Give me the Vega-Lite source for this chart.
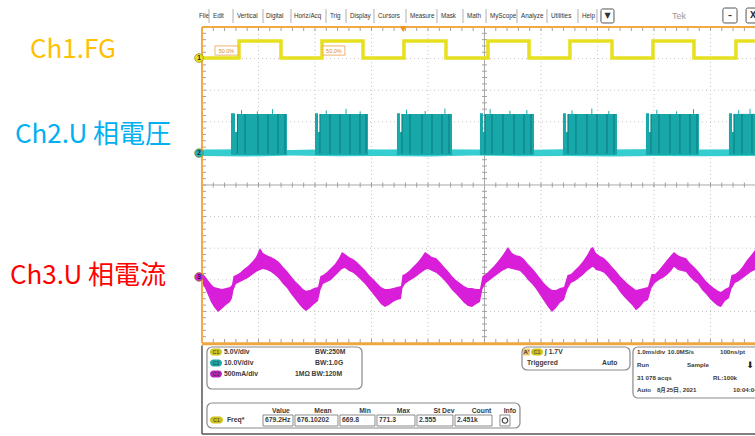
{
  "$schema": "https://vega.github.io/schema/vega-lite/v6.json",
  "width": 755,
  "height": 436,
  "autosize": "none",
  "padding": 0,
  "background": "white",
  "config": {"view": {"stroke": null}},
  "resolve": {"scale": {"color": "independent"}},
  "encoding": {
    "x": {"field": "t", "type": "quantitative", "scale": {"domain": [-3.575, 9.788], "nice": false, "zero": false}, "axis": null},
    "y": {"field": "v", "type": "quantitative", "scale": {"domain": [-7.943, 5.854], "nice": false, "zero": false}, "axis": null}
  },
  "datasets": {
    "ch1": [{"t":0,"v":4.02},{"t":0.655,"v":4.56},{"t":1.398,"v":4.02},{"t":2.124,"v":4.56},{"t":2.85,"v":4.02},{"t":3.575,"v":4.56},{"t":4.319,"v":4.02},{"t":5.062,"v":4.56},{"t":5.788,"v":4.02},{"t":6.513,"v":4.56},{"t":7.257,"v":4.02},{"t":7.982,"v":4.56},{"t":8.708,"v":4.02},{"t":9.451,"v":4.56},{"t":9.95,"v":4.56}],
    "ch2base": [{"t":0,"v":0.92,"v2":1.12},{"t":0.8,"v":0.9,"v2":1.13},{"t":1.6,"v":0.93,"v2":1.11},{"t":2.4,"v":0.91,"v2":1.14},{"t":3.2,"v":0.92,"v2":1.12},{"t":4.0,"v":0.9,"v2":1.13},{"t":4.8,"v":0.93,"v2":1.12},{"t":5.6,"v":0.91,"v2":1.11},{"t":6.4,"v":0.92,"v2":1.13},{"t":7.2,"v":0.9,"v2":1.12},{"t":8.0,"v":0.92,"v2":1.14},{"t":8.8,"v":0.91,"v2":1.12},{"t":9.95,"v":0.92,"v2":1.13}],
    "bursts": [
      {"t":0.513,"t2":0.584,"v":0.95,"v2":2.27},{"t":0.584,"t2":0.628,"v":0.95,"v2":1.68},{"t":0.628,"t2":1.504,"v":0.95,"v2":2.25},
      {"t":2.0,"t2":2.053,"v":0.95,"v2":2.27},{"t":2.053,"t2":2.088,"v":0.95,"v2":1.68},{"t":2.088,"t2":2.938,"v":0.95,"v2":2.25},
      {"t":3.451,"t2":3.504,"v":0.95,"v2":2.27},{"t":3.504,"t2":3.54,"v":0.95,"v2":1.68},{"t":3.54,"t2":4.425,"v":0.95,"v2":2.25},
      {"t":4.92,"t2":4.973,"v":0.95,"v2":2.27},{"t":4.973,"t2":5.009,"v":0.95,"v2":1.68},{"t":5.009,"t2":5.876,"v":0.95,"v2":2.25},
      {"t":6.389,"t2":6.442,"v":0.95,"v2":2.27},{"t":6.442,"t2":6.478,"v":0.95,"v2":1.68},{"t":6.478,"t2":7.345,"v":0.95,"v2":2.25},
      {"t":7.858,"t2":7.912,"v":0.95,"v2":2.27},{"t":7.912,"t2":7.947,"v":0.95,"v2":1.68},{"t":7.947,"t2":8.796,"v":0.95,"v2":2.25},
      {"t":9.327,"t2":9.381,"v":0.95,"v2":2.27},{"t":9.381,"t2":9.416,"v":0.95,"v2":1.68},{"t":9.416,"t2":9.788,"v":0.95,"v2":2.25}
    ],
    "burstlines": [{"t":0.628,"v":1.0,"v2":2.25},{"t":0.761,"v":1.0,"v2":2.25},{"t":0.991,"v":1.0,"v2":2.25},{"t":1.168,"v":1.0,"v2":2.25},{"t":1.345,"v":1.0,"v2":2.25},{"t":1.469,"v":1.0,"v2":2.25},
      {"t":2.088,"v":1.0,"v2":2.25},{"t":2.265,"v":1.0,"v2":2.25},{"t":2.442,"v":1.0,"v2":2.25},{"t":2.619,"v":1.0,"v2":2.25},{"t":2.796,"v":1.0,"v2":2.25},{"t":2.903,"v":1.0,"v2":2.25},
      {"t":3.54,"v":1.0,"v2":2.25},{"t":3.681,"v":1.0,"v2":2.25},{"t":3.894,"v":1.0,"v2":2.25},{"t":4.071,"v":1.0,"v2":2.25},{"t":4.248,"v":1.0,"v2":2.25},{"t":4.372,"v":1.0,"v2":2.25},
      {"t":5.009,"v":1.0,"v2":2.25},{"t":5.133,"v":1.0,"v2":2.25},{"t":5.327,"v":1.0,"v2":2.25},{"t":5.522,"v":1.0,"v2":2.25},{"t":5.699,"v":1.0,"v2":2.25},{"t":5.823,"v":1.0,"v2":2.25},
      {"t":6.478,"v":1.0,"v2":2.25},{"t":6.619,"v":1.0,"v2":2.25},{"t":6.814,"v":1.0,"v2":2.25},{"t":6.991,"v":1.0,"v2":2.25},{"t":7.168,"v":1.0,"v2":2.25},{"t":7.292,"v":1.0,"v2":2.25},
      {"t":7.947,"v":1.0,"v2":2.25},{"t":8.088,"v":1.0,"v2":2.25},{"t":8.283,"v":1.0,"v2":2.25},{"t":8.46,"v":1.0,"v2":2.25},{"t":8.637,"v":1.0,"v2":2.25},{"t":8.761,"v":1.0,"v2":2.25},
      {"t":9.416,"v":1.0,"v2":2.25},{"t":9.558,"v":1.0,"v2":2.25},{"t":9.735,"v":1.0,"v2":2.25}],
    "burstspikes": [{"t":0.7,"v":2.24,"v2":2.37},{"t":0.98,"v":2.24,"v2":2.33},{"t":1.25,"v":2.24,"v2":2.4},
      {"t":2.2,"v":2.24,"v2":2.36},{"t":2.55,"v":2.24,"v2":2.41},{"t":2.8,"v":2.24,"v2":2.33},
      {"t":3.62,"v":2.24,"v2":2.38},{"t":3.95,"v":2.24,"v2":2.34},{"t":4.3,"v":2.24,"v2":2.42},
      {"t":5.1,"v":2.24,"v2":2.4},{"t":5.45,"v":2.24,"v2":2.35},{"t":5.75,"v":2.24,"v2":2.37},
      {"t":6.55,"v":2.24,"v2":2.36},{"t":6.9,"v":2.24,"v2":2.42},{"t":7.2,"v":2.24,"v2":2.34},
      {"t":8.05,"v":2.24,"v2":2.38},{"t":8.4,"v":2.24,"v2":2.33},{"t":8.7,"v":2.24,"v2":2.4},
      {"t":9.5,"v":2.24,"v2":2.37},{"t":9.7,"v":2.24,"v2":2.41}],
    "ch3": [
      {"t":0,"v":-3.10,"v2":-2.78},{"t":0.053,"v":-3.26,"v2":-2.88},{"t":0.106,"v":-3.48,"v2":-3.01},{"t":0.159,"v":-3.70,"v2":-3.13},{"t":0.212,"v":-3.86,"v2":-3.23},{"t":0.283,"v":-4.02,"v2":-3.26},{"t":0.354,"v":-3.92,"v2":-3.29},{"t":0.425,"v":-3.80,"v2":-3.26},{"t":0.496,"v":-3.70,"v2":-3.23},{"t":0.531,"v":-3.58,"v2":-3.16},{"t":0.558,"v":-3.32,"v2":-2.88},
      {"t":0.602,"v":-3.13,"v2":-2.85},{"t":0.673,"v":-3.07,"v2":-2.78},{"t":0.743,"v":-3.01,"v2":-2.66},{"t":0.814,"v":-2.94,"v2":-2.56},{"t":0.885,"v":-2.85,"v2":-2.44},{"t":0.956,"v":-2.75,"v2":-2.28},{"t":1.027,"v":-2.69,"v2":-1.99},{"t":1.08,"v":-2.66,"v2":-2.15},{"t":1.15,"v":-2.69,"v2":-2.22},{"t":1.221,"v":-2.75,"v2":-2.28},{"t":1.292,"v":-2.85,"v2":-2.34},{"t":1.363,"v":-2.97,"v2":-2.44},{"t":1.434,"v":-3.13,"v2":-2.59},{"t":1.504,"v":-3.26,"v2":-2.72},{"t":1.575,"v":-3.45,"v2":-2.88},{"t":1.646,"v":-3.61,"v2":-3.04},{"t":1.717,"v":-3.77,"v2":-3.16},{"t":1.788,"v":-3.92,"v2":-3.29},{"t":1.841,"v":-3.99,"v2":-3.35},{"t":1.912,"v":-3.89,"v2":-3.32},{"t":1.982,"v":-3.77,"v2":-3.26},{"t":2.053,"v":-3.67,"v2":-3.23},{"t":2.097,"v":-3.32,"v2":-2.88},
      {"t":2.142,"v":-3.13,"v2":-2.85},{"t":2.212,"v":-3.07,"v2":-2.75},{"t":2.283,"v":-3.01,"v2":-2.63},{"t":2.354,"v":-2.88,"v2":-2.50},{"t":2.425,"v":-2.75,"v2":-2.31},{"t":2.478,"v":-2.66,"v2":-2.12},{"t":2.531,"v":-2.63,"v2":-2.18},{"t":2.602,"v":-2.72,"v2":-2.28},{"t":2.673,"v":-2.78,"v2":-2.34},{"t":2.743,"v":-2.88,"v2":-2.44},{"t":2.814,"v":-3.01,"v2":-2.56},{"t":2.885,"v":-3.13,"v2":-2.69},{"t":2.956,"v":-3.29,"v2":-2.85},{"t":3.027,"v":-3.45,"v2":-2.97},{"t":3.097,"v":-3.61,"v2":-3.10},{"t":3.168,"v":-3.77,"v2":-3.23},{"t":3.239,"v":-3.86,"v2":-3.29},{"t":3.31,"v":-3.80,"v2":-3.29},{"t":3.381,"v":-3.70,"v2":-3.26},{"t":3.451,"v":-3.64,"v2":-3.23},{"t":3.522,"v":-3.61,"v2":-3.20},{"t":3.549,"v":-3.26,"v2":-2.85},
      {"t":3.593,"v":-3.13,"v2":-2.82},{"t":3.664,"v":-3.04,"v2":-2.72},{"t":3.735,"v":-2.97,"v2":-2.59},{"t":3.805,"v":-2.88,"v2":-2.47},{"t":3.876,"v":-2.78,"v2":-2.31},{"t":3.947,"v":-2.69,"v2":-2.12},{"t":4.0,"v":-2.66,"v2":-2.18},{"t":4.071,"v":-2.72,"v2":-2.28},{"t":4.142,"v":-2.78,"v2":-2.31},{"t":4.212,"v":-2.88,"v2":-2.44},{"t":4.283,"v":-3.01,"v2":-2.59},{"t":4.354,"v":-3.16,"v2":-2.72},{"t":4.425,"v":-3.32,"v2":-2.88},{"t":4.496,"v":-3.45,"v2":-3.01},{"t":4.566,"v":-3.58,"v2":-3.10},{"t":4.637,"v":-3.73,"v2":-3.20},{"t":4.708,"v":-3.83,"v2":-3.26},{"t":4.779,"v":-3.86,"v2":-3.26},{"t":4.85,"v":-3.77,"v2":-3.29},{"t":4.92,"v":-3.70,"v2":-3.29},{"t":4.965,"v":-3.29,"v2":-2.88},
      {"t":5.027,"v":-3.10,"v2":-2.82},{"t":5.097,"v":-3.01,"v2":-2.69},{"t":5.168,"v":-2.91,"v2":-2.56},{"t":5.239,"v":-2.82,"v2":-2.41},{"t":5.31,"v":-2.72,"v2":-2.25},{"t":5.381,"v":-2.66,"v2":-2.06},{"t":5.416,"v":-2.63,"v2":-1.96},{"t":5.487,"v":-2.66,"v2":-2.15},{"t":5.558,"v":-2.69,"v2":-2.22},{"t":5.628,"v":-2.72,"v2":-2.25},{"t":5.699,"v":-2.85,"v2":-2.34},{"t":5.77,"v":-3.01,"v2":-2.50},{"t":5.841,"v":-3.13,"v2":-2.63},{"t":5.912,"v":-3.29,"v2":-2.78},{"t":5.982,"v":-3.48,"v2":-2.94},{"t":6.053,"v":-3.67,"v2":-3.10},{"t":6.124,"v":-3.86,"v2":-3.23},{"t":6.195,"v":-4.02,"v2":-3.32},{"t":6.265,"v":-3.89,"v2":-3.32},{"t":6.336,"v":-3.73,"v2":-3.26},{"t":6.407,"v":-3.64,"v2":-3.23},{"t":6.469,"v":-3.29,"v2":-2.85},
      {"t":6.531,"v":-3.10,"v2":-2.82},{"t":6.602,"v":-3.04,"v2":-2.69},{"t":6.673,"v":-2.94,"v2":-2.56},{"t":6.743,"v":-2.85,"v2":-2.41},{"t":6.814,"v":-2.72,"v2":-2.22},{"t":6.885,"v":-2.63,"v2":-1.99},{"t":6.92,"v":-2.59,"v2":-1.96},{"t":6.973,"v":-2.69,"v2":-2.15},{"t":7.044,"v":-2.72,"v2":-2.25},{"t":7.115,"v":-2.78,"v2":-2.31},{"t":7.186,"v":-2.91,"v2":-2.44},{"t":7.257,"v":-3.07,"v2":-2.59},{"t":7.327,"v":-3.20,"v2":-2.72},{"t":7.398,"v":-3.39,"v2":-2.88},{"t":7.469,"v":-3.54,"v2":-3.01},{"t":7.54,"v":-3.67,"v2":-3.13},{"t":7.611,"v":-3.80,"v2":-3.23},{"t":7.681,"v":-3.96,"v2":-3.32},{"t":7.752,"v":-3.86,"v2":-3.29},{"t":7.823,"v":-3.70,"v2":-3.26},{"t":7.894,"v":-3.64,"v2":-3.23},{"t":7.956,"v":-3.26,"v2":-2.82},
      {"t":8.018,"v":-3.10,"v2":-2.82},{"t":8.088,"v":-3.01,"v2":-2.69},{"t":8.159,"v":-2.94,"v2":-2.53},{"t":8.23,"v":-2.85,"v2":-2.37},{"t":8.301,"v":-2.72,"v2":-2.22},{"t":8.354,"v":-2.59,"v2":-2.12},{"t":8.425,"v":-2.69,"v2":-2.22},{"t":8.496,"v":-2.72,"v2":-2.28},{"t":8.566,"v":-2.75,"v2":-2.31},{"t":8.637,"v":-2.91,"v2":-2.47},{"t":8.708,"v":-3.04,"v2":-2.59},{"t":8.779,"v":-3.13,"v2":-2.72},{"t":8.85,"v":-3.32,"v2":-2.88},{"t":8.92,"v":-3.45,"v2":-3.04},{"t":8.991,"v":-3.61,"v2":-3.16},{"t":9.062,"v":-3.73,"v2":-3.26},{"t":9.133,"v":-3.83,"v2":-3.35},{"t":9.186,"v":-3.86,"v2":-3.39},{"t":9.257,"v":-3.67,"v2":-3.29},{"t":9.327,"v":-3.58,"v2":-3.23},{"t":9.372,"v":-3.29,"v2":-2.85},
      {"t":9.434,"v":-3.10,"v2":-2.82},{"t":9.504,"v":-3.04,"v2":-2.72},{"t":9.575,"v":-2.94,"v2":-2.56},{"t":9.646,"v":-2.85,"v2":-2.37},{"t":9.717,"v":-2.75,"v2":-2.22},{"t":9.788,"v":-2.69,"v2":-2.06}
    ],
    "gridx": [{"t":1,"v":-5,"v2":5},{"t":2,"v":-5,"v2":5},{"t":3,"v":-5,"v2":5},{"t":4,"v":-5,"v2":5},{"t":6,"v":-5,"v2":5},{"t":7,"v":-5,"v2":5},{"t":8,"v":-5,"v2":5},{"t":9,"v":-5,"v2":5}],
    "gridy": [{"v":-4,"t":0,"t2":9.788},{"v":-3,"t":0,"t2":9.788},{"v":-2,"t":0,"t2":9.788},{"v":-1,"t":0,"t2":9.788},{"v":1,"t":0,"t2":9.788},{"v":2,"t":0,"t2":9.788},{"v":3,"t":0,"t2":9.788},{"v":4,"t":0,"t2":9.788}],
    "xtc": [{"t":0.2,"v":0},{"t":0.4,"v":0},{"t":0.6,"v":0},{"t":0.8,"v":0},{"t":1,"v":0},{"t":1.2,"v":0},{"t":1.4,"v":0},{"t":1.6,"v":0},{"t":1.8,"v":0},{"t":2,"v":0},{"t":2.2,"v":0},{"t":2.4,"v":0},{"t":2.6,"v":0},{"t":2.8,"v":0},{"t":3,"v":0},{"t":3.2,"v":0},{"t":3.4,"v":0},{"t":3.6,"v":0},{"t":3.8,"v":0},{"t":4,"v":0},{"t":4.2,"v":0},{"t":4.4,"v":0},{"t":4.6,"v":0},{"t":4.8,"v":0},{"t":5.2,"v":0},{"t":5.4,"v":0},{"t":5.6,"v":0},{"t":5.8,"v":0},{"t":6,"v":0},{"t":6.2,"v":0},{"t":6.4,"v":0},{"t":6.6,"v":0},{"t":6.8,"v":0},{"t":7,"v":0},{"t":7.2,"v":0},{"t":7.4,"v":0},{"t":7.6,"v":0},{"t":7.8,"v":0},{"t":8,"v":0},{"t":8.2,"v":0},{"t":8.4,"v":0},{"t":8.6,"v":0},{"t":8.8,"v":0},{"t":9,"v":0},{"t":9.2,"v":0},{"t":9.4,"v":0},{"t":9.6,"v":0}],
    "xtt": [{"t":0.2,"v":4.935},{"t":0.4,"v":4.935},{"t":0.6,"v":4.935},{"t":0.8,"v":4.935},{"t":1,"v":4.935},{"t":1.2,"v":4.935},{"t":1.4,"v":4.935},{"t":1.6,"v":4.935},{"t":1.8,"v":4.935},{"t":2,"v":4.935},{"t":2.2,"v":4.935},{"t":2.4,"v":4.935},{"t":2.6,"v":4.935},{"t":2.8,"v":4.935},{"t":3,"v":4.935},{"t":3.2,"v":4.935},{"t":3.4,"v":4.935},{"t":3.6,"v":4.935},{"t":3.8,"v":4.935},{"t":4,"v":4.935},{"t":4.2,"v":4.935},{"t":4.4,"v":4.935},{"t":4.6,"v":4.935},{"t":4.8,"v":4.935},{"t":5,"v":4.935},{"t":5.2,"v":4.935},{"t":5.4,"v":4.935},{"t":5.6,"v":4.935},{"t":5.8,"v":4.935},{"t":6,"v":4.935},{"t":6.2,"v":4.935},{"t":6.4,"v":4.935},{"t":6.6,"v":4.935},{"t":6.8,"v":4.935},{"t":7,"v":4.935},{"t":7.2,"v":4.935},{"t":7.4,"v":4.935},{"t":7.6,"v":4.935},{"t":7.8,"v":4.935},{"t":8,"v":4.935},{"t":8.2,"v":4.935},{"t":8.4,"v":4.935},{"t":8.6,"v":4.935},{"t":8.8,"v":4.935},{"t":9,"v":4.935},{"t":9.2,"v":4.935},{"t":9.4,"v":4.935},{"t":9.6,"v":4.935}],
    "xtb": [{"t":0.2,"v":-4.935},{"t":0.4,"v":-4.935},{"t":0.6,"v":-4.935},{"t":0.8,"v":-4.935},{"t":1,"v":-4.935},{"t":1.2,"v":-4.935},{"t":1.4,"v":-4.935},{"t":1.6,"v":-4.935},{"t":1.8,"v":-4.935},{"t":2,"v":-4.935},{"t":2.2,"v":-4.935},{"t":2.4,"v":-4.935},{"t":2.6,"v":-4.935},{"t":2.8,"v":-4.935},{"t":3,"v":-4.935},{"t":3.2,"v":-4.935},{"t":3.4,"v":-4.935},{"t":3.6,"v":-4.935},{"t":3.8,"v":-4.935},{"t":4,"v":-4.935},{"t":4.2,"v":-4.935},{"t":4.4,"v":-4.935},{"t":4.6,"v":-4.935},{"t":4.8,"v":-4.935},{"t":5,"v":-4.935},{"t":5.2,"v":-4.935},{"t":5.4,"v":-4.935},{"t":5.6,"v":-4.935},{"t":5.8,"v":-4.935},{"t":6,"v":-4.935},{"t":6.2,"v":-4.935},{"t":6.4,"v":-4.935},{"t":6.6,"v":-4.935},{"t":6.8,"v":-4.935},{"t":7,"v":-4.935},{"t":7.2,"v":-4.935},{"t":7.4,"v":-4.935},{"t":7.6,"v":-4.935},{"t":7.8,"v":-4.935},{"t":8,"v":-4.935},{"t":8.2,"v":-4.935},{"t":8.4,"v":-4.935},{"t":8.6,"v":-4.935},{"t":8.8,"v":-4.935},{"t":9,"v":-4.935},{"t":9.2,"v":-4.935},{"t":9.4,"v":-4.935},{"t":9.6,"v":-4.935}],
    "ytc": [{"t":5,"v":-4.8},{"t":5,"v":-4.6},{"t":5,"v":-4.4},{"t":5,"v":-4.2},{"t":5,"v":-4},{"t":5,"v":-3.8},{"t":5,"v":-3.6},{"t":5,"v":-3.4},{"t":5,"v":-3.2},{"t":5,"v":-3},{"t":5,"v":-2.8},{"t":5,"v":-2.6},{"t":5,"v":-2.4},{"t":5,"v":-2.2},{"t":5,"v":-2},{"t":5,"v":-1.8},{"t":5,"v":-1.6},{"t":5,"v":-1.4},{"t":5,"v":-1.2},{"t":5,"v":-1},{"t":5,"v":-0.8},{"t":5,"v":-0.6},{"t":5,"v":-0.4},{"t":5,"v":-0.2},{"t":5,"v":0.2},{"t":5,"v":0.4},{"t":5,"v":0.6},{"t":5,"v":0.8},{"t":5,"v":1},{"t":5,"v":1.2},{"t":5,"v":1.4},{"t":5,"v":1.6},{"t":5,"v":1.8},{"t":5,"v":2},{"t":5,"v":2.2},{"t":5,"v":2.4},{"t":5,"v":2.6},{"t":5,"v":2.8},{"t":5,"v":3},{"t":5,"v":3.2},{"t":5,"v":3.4},{"t":5,"v":3.6},{"t":5,"v":3.8},{"t":5,"v":4},{"t":5,"v":4.2},{"t":5,"v":4.4},{"t":5,"v":4.6},{"t":5,"v":4.8}],
    "ytl": [{"t":0.035,"v":-4.8},{"t":0.035,"v":-4.6},{"t":0.035,"v":-4.4},{"t":0.035,"v":-4.2},{"t":0.035,"v":-4},{"t":0.035,"v":-3.8},{"t":0.035,"v":-3.6},{"t":0.035,"v":-3.4},{"t":0.035,"v":-3.2},{"t":0.035,"v":-3},{"t":0.035,"v":-2.8},{"t":0.035,"v":-2.6},{"t":0.035,"v":-2.4},{"t":0.035,"v":-2.2},{"t":0.035,"v":-2},{"t":0.035,"v":-1.8},{"t":0.035,"v":-1.6},{"t":0.035,"v":-1.4},{"t":0.035,"v":-1.2},{"t":0.035,"v":-1},{"t":0.035,"v":-0.8},{"t":0.035,"v":-0.6},{"t":0.035,"v":-0.4},{"t":0.035,"v":-0.2},{"t":0.035,"v":0},{"t":0.035,"v":0.2},{"t":0.035,"v":0.4},{"t":0.035,"v":0.6},{"t":0.035,"v":0.8},{"t":0.035,"v":1},{"t":0.035,"v":1.2},{"t":0.035,"v":1.4},{"t":0.035,"v":1.6},{"t":0.035,"v":1.8},{"t":0.035,"v":2},{"t":0.035,"v":2.2},{"t":0.035,"v":2.4},{"t":0.035,"v":2.6},{"t":0.035,"v":2.8},{"t":0.035,"v":3},{"t":0.035,"v":3.2},{"t":0.035,"v":3.4},{"t":0.035,"v":3.6},{"t":0.035,"v":3.8},{"t":0.035,"v":4},{"t":0.035,"v":4.2},{"t":0.035,"v":4.4},{"t":0.035,"v":4.6},{"t":0.035,"v":4.8}],
    "vlines": [{"t":5,"v":-5,"v2":5,"kind":"center"},{"t":0,"v":-5,"v2":5,"kind":"left"},{"t":0,"v":-5.08,"v2":-7.88,"kind":"frame"}],
    "hlines": [{"t":0,"t2":9.788,"v":0,"kind":"center"},{"t":0,"t2":9.788,"v":5,"kind":"top"},{"t":0,"t2":9.788,"v":-5.02,"kind":"bottom"},{"t":0,"t2":9.788,"v":-7.88,"kind":"frame"}],
    "pct": [{"t":0.23,"t2":0.637,"v":4.11,"v2":4.4,"tc":0.433,"vc":4.255,"label":"50.0%"},{"t":2.14,"t2":2.53,"v":4.11,"v2":4.4,"tc":2.335,"vc":4.255,"label":"50.0%"}],
    "markers": [{"t":-0.053,"v":4.02,"label":"1","ch":"1"},{"t":-0.053,"v":1.01,"label":"2","ch":"2"},{"t":-0.053,"v":-2.91,"label":"3","ch":"3"}],
    "chlabels": [{"t":-3.044,"v":4.272,"label":"Ch1.FG","ch":"Ch1"},{"t":-3.31,"v":1.582,"label":"Ch2.U 相電圧","ch":"Ch2"},{"t":-3.398,"v":-2.88,"label":"Ch3.U 相電流","ch":"Ch3"}],
    "menu": [{"t":-0.053,"v":5.348,"label":"File"},{"t":0.195,"v":5.348,"label":"Edit"},{"t":0.619,"v":5.348,"label":"Vertical"},{"t":1.133,"v":5.348,"label":"Digital"},{"t":1.628,"v":5.348,"label":"Horiz/Acq"},{"t":2.265,"v":5.348,"label":"Trig"},{"t":2.619,"v":5.348,"label":"Display"},{"t":3.115,"v":5.348,"label":"Cursors"},{"t":3.681,"v":5.348,"label":"Measure"},{"t":4.23,"v":5.348,"label":"Mask"},{"t":4.69,"v":5.348,"label":"Math"},{"t":5.097,"v":5.348,"label":"MyScope"},{"t":5.646,"v":5.348,"label":"Analyze"},{"t":6.177,"v":5.348,"label":"Utilities"},{"t":6.726,"v":5.348,"label":"Help"}],
    "menusep": [{"t":0.124,"v":5.127,"v2":5.57},{"t":0.549,"v":5.127,"v2":5.57},{"t":1.08,"v":5.127,"v2":5.57},{"t":1.575,"v":5.127,"v2":5.57},{"t":2.195,"v":5.127,"v2":5.57},{"t":2.549,"v":5.127,"v2":5.57},{"t":3.044,"v":5.127,"v2":5.57},{"t":3.611,"v":5.127,"v2":5.57},{"t":4.159,"v":5.127,"v2":5.57},{"t":4.619,"v":5.127,"v2":5.57},{"t":5.027,"v":5.127,"v2":5.57},{"t":5.575,"v":5.127,"v2":5.57},{"t":6.106,"v":5.127,"v2":5.57},{"t":6.655,"v":5.127,"v2":5.57},{"t":6.991,"v":5.127,"v2":5.57}],
    "winbox": [{"t":7.062,"t2":7.292,"v":5.127,"v2":5.57,"tc":7.177,"vc":5.35,"label":"▼"},{"t":9.22,"t2":9.47,"v":5.127,"v2":5.6,"tc":9.345,"vc":5.36,"label":"–"},{"t":9.63,"t2":9.88,"v":5.127,"v2":5.6,"tc":9.755,"vc":5.36,"label":"X"}],
    "panels": [{"t":0.088,"t2":2.832,"v":-6.456,"v2":-5.127},{"t":5.664,"t2":7.575,"v":-5.854,"v2":-5.127},{"t":7.628,"t2":9.95,"v":-6.741,"v2":-5.127},{"t":0.088,"t2":5.628,"v":-7.69,"v2":-6.899}],
    "cells": [{"t":1.08,"t2":1.611,"v":-7.627,"v2":-7.278},{"t":1.646,"t2":2.407,"v":-7.627,"v2":-7.278},{"t":2.442,"t2":3.062,"v":-7.627,"v2":-7.278},{"t":3.097,"t2":3.77,"v":-7.627,"v2":-7.278},{"t":3.805,"t2":4.442,"v":-7.627,"v2":-7.278},{"t":4.478,"t2":5.133,"v":-7.627,"v2":-7.278},{"t":5.274,"t2":5.451,"v":-7.627,"v2":-7.278}],
    "badges": [{"t":0.142,"t2":0.354,"v":-5.395,"v2":-5.175,"tc":0.248,"vc":-5.285,"ch":"C1","label":"C1"},{"t":0.142,"t2":0.354,"v":-5.743,"v2":-5.523,"tc":0.248,"vc":-5.633,"ch":"C2","label":"C2"},{"t":0.142,"t2":0.354,"v":-6.091,"v2":-5.871,"tc":0.248,"vc":-5.981,"ch":"C3","label":"C3"},{"t":5.823,"t2":6.035,"v":-5.395,"v2":-5.175,"tc":5.929,"vc":-5.285,"ch":"C1","label":"C1"},{"t":0.142,"t2":0.372,"v":-7.547,"v2":-7.327,"tc":0.257,"vc":-7.437,"ch":"C1","label":"C1"}],
    "ptext": [{"t":0.389,"v":-5.285,"label":"5.0V/div"},{"t":0.389,"v":-5.633,"label":"10.0V/div"},{"t":0.389,"v":-5.981,"label":"500mA/div"},{"t":2.0,"v":-5.285,"label":"BW:250M"},{"t":2.0,"v":-5.633,"label":"BW:1.0G"},{"t":1.646,"v":-5.981,"label":"1MΩ"},{"t":1.94,"v":-5.981,"label":"BW:120M"},{"t":6.07,"v":-5.285,"label":"∫ 1.7V"},{"t":5.752,"v":-5.633,"label":"Triggered"},{"t":7.08,"v":-5.633,"label":"Auto"},{"t":0.442,"v":-7.452,"label":"Freq*"},{"t":1.115,"v":-7.452,"label":"679.2Hz"},{"t":1.681,"v":-7.452,"label":"676.10202"},{"t":2.478,"v":-7.452,"label":"669.8"},{"t":3.133,"v":-7.452,"label":"771.3"},{"t":3.841,"v":-7.452,"label":"2.555"},{"t":4.513,"v":-7.452,"label":"2.451k"}],
    "htext": [{"t":7.699,"v":-5.285,"label":"1.0ms/div"},{"t":8.24,"v":-5.285,"label":"10.0MS/s"},{"t":9.168,"v":-5.285,"label":"100ns/pt"},{"t":7.699,"v":-5.696,"label":"Run"},{"t":8.584,"v":-5.696,"label":"Sample"},{"t":7.699,"v":-6.108,"label":"31 078 acqs"},{"t":9.044,"v":-6.108,"label":"RL:100k"},{"t":7.699,"v":-6.487,"label":"Auto"},{"t":8.053,"v":-6.487,"label":"8月25日, 2021"},{"t":9.398,"v":-6.487,"label":"10:04:04"}],
    "pheader": [{"t":1.398,"v":-7.152,"label":"Value"},{"t":2.142,"v":-7.152,"label":"Mean"},{"t":2.885,"v":-7.152,"label":"Min"},{"t":3.566,"v":-7.152,"label":"Max"},{"t":4.283,"v":-7.152,"label":"St Dev"},{"t":4.947,"v":-7.152,"label":"Count"},{"t":5.451,"v":-7.152,"label":"Info"}]
  },
  "layer": [
    {"data": {"name": "gridx"}, "mark": {"type": "rule", "color": "#C4C4C4", "strokeDash": [1, 3], "strokeWidth": 1},
     "encoding": {"y2": {"field": "v2"}}},
    {"data": {"name": "gridy"}, "mark": {"type": "rule", "color": "#C4C4C4", "strokeDash": [1, 3], "strokeWidth": 1},
     "encoding": {"x2": {"field": "t2"}}},
    {"data": {"name": "vlines"}, "transform": [{"filter": "datum.kind == 'center'"}], "mark": {"type": "rule", "color": "#A8A8A8", "strokeWidth": 1},
     "encoding": {"y2": {"field": "v2"}}},
    {"data": {"name": "hlines"}, "transform": [{"filter": "datum.kind == 'center'"}], "mark": {"type": "rule", "color": "#A8A8A8", "strokeWidth": 1},
     "encoding": {"x2": {"field": "t2"}}},
    {"data": {"name": "xtc"}, "mark": {"type": "tick", "orient": "vertical", "size": 5, "thickness": 1, "color": "#A0A0A0", "opacity": 1}},
    {"data": {"name": "xtt"}, "mark": {"type": "tick", "orient": "vertical", "size": 4, "thickness": 1, "color": "#A0A0A0", "opacity": 1}},
    {"data": {"name": "xtb"}, "mark": {"type": "tick", "orient": "vertical", "size": 4, "thickness": 1, "color": "#A0A0A0", "opacity": 1}},
    {"data": {"name": "ytc"}, "mark": {"type": "tick", "orient": "horizontal", "size": 5, "thickness": 1, "color": "#A0A0A0", "opacity": 1}},
    {"data": {"name": "ytl"}, "mark": {"type": "tick", "orient": "horizontal", "size": 4, "thickness": 1, "color": "#A0A0A0", "opacity": 1}},

    {"data": {"name": "ch3"}, "mark": {"type": "area", "color": "#D81ED8", "opacity": 1},
     "encoding": {"y2": {"field": "v2"}}},
    {"data": {"name": "ch2base"}, "mark": {"type": "area", "color": "#35CDD0", "opacity": 1},
     "encoding": {"y2": {"field": "v2"}}},
    {"data": {"name": "bursts"}, "mark": {"type": "rect", "color": "#18A8AA", "opacity": 1},
     "encoding": {"x2": {"field": "t2"}, "y2": {"field": "v2"}}},
    {"data": {"name": "burstspikes"}, "mark": {"type": "rule", "color": "#18A8AA", "strokeWidth": 1},
     "encoding": {"y2": {"field": "v2"}}},
    {"data": {"name": "burstlines"}, "mark": {"type": "rule", "color": "#0B7F81", "strokeWidth": 1.1},
     "encoding": {"y2": {"field": "v2"}}},
    {"data": {"name": "ch1"}, "mark": {"type": "line", "color": "#E6E01E", "strokeWidth": 3.5, "interpolate": "step-after"}, "encoding": {}},

    {"data": {"name": "pct"}, "mark": {"type": "rect", "fill": "white", "stroke": "#E8A048", "strokeWidth": 0.8, "opacity": 1},
     "encoding": {"x2": {"field": "t2"}, "y2": {"field": "v2"}}},
    {"data": {"name": "pct"}, "mark": {"type": "text", "color": "#D88A30", "fontSize": 5.5, "font": "Liberation Sans", "align": "center", "baseline": "middle"},
     "encoding": {"x": {"field": "tc", "type": "quantitative"}, "y": {"field": "vc", "type": "quantitative"}, "text": {"field": "label"}}},

    {"data": {"name": "hlines"}, "transform": [{"filter": "datum.kind == 'top'"}], "mark": {"type": "rule", "color": "#F0AA45", "strokeWidth": 2},
     "encoding": {"x2": {"field": "t2"}}},
    {"data": {"name": "vlines"}, "transform": [{"filter": "datum.kind == 'left'"}], "mark": {"type": "rule", "color": "#F0AA45", "strokeWidth": 2},
     "encoding": {"y2": {"field": "v2"}}},
    {"data": {"name": "hlines"}, "transform": [{"filter": "datum.kind == 'bottom'"}], "mark": {"type": "rule", "color": "#EFA640", "strokeWidth": 3},
     "encoding": {"x2": {"field": "t2"}}},
    {"data": {"name": "vlines"}, "transform": [{"filter": "datum.kind == 'frame'"}], "mark": {"type": "rule", "color": "#555555", "strokeWidth": 1.5},
     "encoding": {"y2": {"field": "v2"}}},
    {"data": {"name": "hlines"}, "transform": [{"filter": "datum.kind == 'frame'"}], "mark": {"type": "rule", "color": "#555555", "strokeWidth": 1.5},
     "encoding": {"x2": {"field": "t2"}}},

    {"data": {"values": [{"t": 3.56, "v": 4.93}]}, "mark": {"type": "point", "shape": "triangle-down", "filled": true, "color": "#F0921E", "size": 45, "opacity": 1}},

    {"data": {"name": "markers"}, "mark": {"type": "point", "shape": "circle", "filled": true, "size": 75, "opacity": 1, "stroke": "#9A8A20", "strokeWidth": 0.8},
     "encoding": {"color": {"field": "ch", "type": "nominal", "scale": {"domain": ["1", "2", "3"], "range": ["#EDE21E", "#20B6B8", "#D41ED6"]}, "legend": null}}},
    {"data": {"name": "markers"}, "mark": {"type": "text", "color": "#222222", "fontSize": 6.5, "fontWeight": "bold", "font": "Liberation Sans", "align": "center", "baseline": "middle"},
     "encoding": {"text": {"field": "label"}}},

    {"data": {"name": "chlabels"}, "mark": {"type": "text", "font": "Noto Sans CJK JP", "fontSize": 26, "align": "left", "baseline": "middle"},
     "encoding": {"text": {"field": "label"}, "color": {"field": "ch", "type": "nominal", "scale": {"domain": ["Ch1", "Ch2", "Ch3"], "range": ["#FFC000", "#00B0F0", "#FF0000"]}, "legend": null}}},

    {"data": {"name": "menu"}, "mark": {"type": "text", "font": "Liberation Sans", "fontSize": 6.3, "color": "#333333", "align": "left", "baseline": "middle"},
     "encoding": {"text": {"field": "label"}}},
    {"data": {"name": "menusep"}, "mark": {"type": "rule", "color": "#B0B0B0", "strokeWidth": 1},
     "encoding": {"y2": {"field": "v2"}}},
    {"data": {"name": "winbox"}, "mark": {"type": "rect", "fill": "white", "stroke": "#555555", "strokeWidth": 1, "cornerRadius": 1.5, "opacity": 1},
     "encoding": {"x2": {"field": "t2"}, "y2": {"field": "v2"}}},
    {"data": {"name": "winbox"}, "mark": {"type": "text", "font": "DejaVu Sans", "fontSize": 8, "fontWeight": "bold", "color": "#333333", "align": "center", "baseline": "middle"},
     "encoding": {"x": {"field": "tc", "type": "quantitative"}, "y": {"field": "vc", "type": "quantitative"}, "text": {"field": "label"}}},
    {"data": {"values": [{"t": 8.319, "v": 5.348, "label": "Tek"}]}, "mark": {"type": "text", "font": "Liberation Sans", "fontSize": 9, "color": "#9A9A9A", "align": "left", "baseline": "middle"},
     "encoding": {"text": {"field": "label"}}},

    {"data": {"name": "panels"}, "mark": {"type": "rect", "fill": "white", "stroke": "#8A8A8A", "strokeWidth": 1.2, "cornerRadius": 5, "opacity": 1},
     "encoding": {"x2": {"field": "t2"}, "y2": {"field": "v2"}}},
    {"data": {"name": "cells"}, "mark": {"type": "rect", "fill": "white", "stroke": "#6E6E6E", "strokeWidth": 0.8, "opacity": 1},
     "encoding": {"x2": {"field": "t2"}, "y2": {"field": "v2"}}},
    {"data": {"values": [{"t": 5.363, "v": -7.452}]}, "mark": {"type": "point", "shape": "circle", "filled": false, "color": "#444444", "size": 30, "strokeWidth": 1.2, "opacity": 1}},
    {"data": {"values": [{"t": 5.681, "t2": 5.805, "v": -5.395, "v2": -5.175}]}, "mark": {"type": "rect", "color": "#F2C66A", "opacity": 1},
     "encoding": {"x2": {"field": "t2"}, "y2": {"field": "v2"}}},
    {"data": {"values": [{"t": 5.743, "v": -5.285, "label": "A'"}]}, "mark": {"type": "text", "font": "Liberation Sans", "fontSize": 6, "fontWeight": "bold", "color": "#333333", "align": "center", "baseline": "middle"},
     "encoding": {"text": {"field": "label"}}},
    {"data": {"name": "badges"}, "mark": {"type": "rect", "cornerRadius": 3.5, "opacity": 1},
     "encoding": {"x2": {"field": "t2"}, "y2": {"field": "v2"},
                  "color": {"field": "ch", "type": "nominal", "scale": {"domain": ["C1", "C2", "C3"], "range": ["#CFC21E", "#1FA7A8", "#B526B8"]}, "legend": null}}},
    {"data": {"name": "badges"}, "mark": {"type": "text", "font": "Liberation Sans", "fontSize": 5, "color": "#333333", "align": "center", "baseline": "middle"},
     "encoding": {"x": {"field": "tc", "type": "quantitative"}, "y": {"field": "vc", "type": "quantitative"}, "text": {"field": "label"}}},
    {"data": {"name": "ptext"}, "mark": {"type": "text", "font": "Liberation Sans", "fontSize": 6.8, "fontWeight": "bold", "color": "#3A3A3A", "align": "left", "baseline": "middle"},
     "encoding": {"text": {"field": "label"}}},
    {"data": {"name": "htext"}, "mark": {"type": "text", "font": "Liberation Sans", "fontSize": 6.2, "fontWeight": "bold", "color": "#3A3A3A", "align": "left", "baseline": "middle"},
     "encoding": {"text": {"field": "label"}}},
    {"data": {"name": "pheader"}, "mark": {"type": "text", "font": "Liberation Sans", "fontSize": 6.8, "fontWeight": "bold", "color": "#3A3A3A", "align": "center", "baseline": "middle"},
     "encoding": {"text": {"field": "label"}}},
    {"data": {"values": [{"t": 9.699, "v": -5.696, "label": "⬇"}]}, "mark": {"type": "text", "font": "DejaVu Sans", "fontSize": 9, "color": "#222222", "align": "center", "baseline": "middle"},
     "encoding": {"text": {"field": "label"}}}
  ]
}
